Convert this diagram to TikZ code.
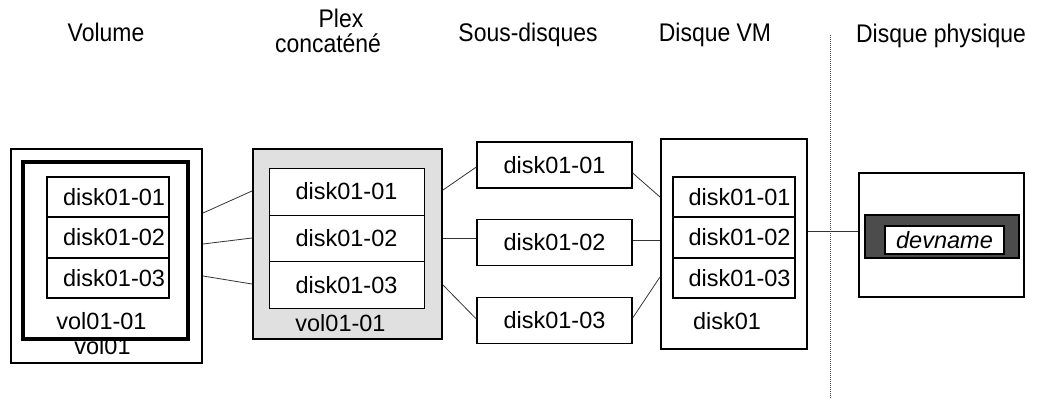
\documentclass[tikz,border=0pt]{standalone}
\usepackage{fontspec}
\setmainfont{Liberation Sans}
\newfontfamily\headfont{Liberation Sans}[FakeStretch=0.9]
\usetikzlibrary{positioning, calc}

\begin{document}
\begin{tikzpicture}[x=1pt, y=-1pt, font=\fontsize{23.5}{28}\selectfont,
  box/.style={rectangle, draw, line width=2pt, inner sep=0pt},
  cell/.style={rectangle, draw, fill=white, line width=2pt, text width=114pt, inner xsep=4pt, inner ysep=0pt, align=right, minimum height=40.5pt},
  pcell/.style={rectangle, draw, fill=white, line width=1pt, minimum width=155pt, minimum height=47pt, inner sep=0pt},
  sub/.style={rectangle, draw, line width=1.3pt, minimum width=155pt, minimum height=46pt, inner sep=0pt},
  link/.style={-, line width=0.8pt, black!80},
  lbl/.style={anchor=base, inner sep=0pt},
  head/.style={anchor=base, inner sep=0pt, font=\headfont\fontsize{25.5}{30}\selectfont}]
\useasboundingbox (0,0) rectangle (1044,400);
\node (h1) [head] at (106,41) {Volume};
\node (h2a) [head] at (341,27) {Plex};
\node (h2b) [head] at (328,52) {concaténé};
\node (h3) [head] at (528,41) {Sous-disques};
\node (h4) [head] at (715,41) {Disque VM};
\node (h5) [head] at (941,42) {Disque physique};

\node (vol) [box, minimum width=191pt, minimum height=214pt] at (106.5,256) {};
\node (volplex) [box, line width=3.5pt, minimum width=165pt, minimum height=177pt] at (105.5,250.5) {};
\node (v1) [cell] at (108,197) {disk01-01};
\node (v2) [cell] at (108,237.5) {disk01-02};
\node (v3) [cell] at (108,278) {disk01-03};
\node (vlbl1) [lbl] at (101.5,329) {vol01-01};
\node (vlbl2) [lbl] at (102.5,354) {vol01};

\node (plex) [box, fill=black!12, minimum width=189pt, minimum height=190pt] at (347.5,244) {};
\node (p1) [pcell] at (346.5,191.5) {disk01-01};
\node (p2) [pcell] at (346.5,238.5) {disk01-02};
\node (p3) [pcell] at (346.5,285) {disk01-03};
\node (plbl) [lbl] at (340.5,331) {vol01-01};

\node (s1) [sub] at (554.5,165) {disk01-01};
\node (s2) [sub] at (554.5,242.5) {disk01-02};
\node (s3) [sub] at (554.5,320.5) {disk01-03};

\node (vm) [box, minimum width=146pt, minimum height=210pt] at (734,244) {};
\node (d1) [cell] at (733.5,197) {disk01-01};
\node (d2) [cell] at (733.5,237.5) {disk01-02};
\node (d3) [cell] at (733.5,278) {disk01-03};
\node (dlbl) [lbl] at (727,329) {disk01};

\node (phys) [box, minimum width=165pt, minimum height=124pt] at (941.5,235) {};
\node (bar) [box, fill=black!70, minimum width=154pt, minimum height=43pt] at (942,236.5) {};
\node (dev) [box, fill=white, font=\fontsize{23.5}{28}\selectfont\itshape, minimum width=119pt, minimum height=28pt] at (944.5,240) {devname};

\coordinate (dtop) at (830,35);
\coordinate (dbot) at (830,398);
  \begin{scope}
    \draw [link] ([yshift=43pt]vol.east) -- ([yshift=53pt]plex.west);
    \draw [link] ([yshift=12pt]vol.east) -- ([yshift=6pt]plex.west);
    \draw [link] ([yshift=-20pt]vol.east) -- ([yshift=-40pt]plex.west);
    \draw [link] ([yshift=54pt]plex.east) -- ([yshift=-2pt]s1.west);
    \draw [link] ([yshift=6pt]plex.east) -- ([yshift=4.5pt]s2.west);
    \draw [link] ([yshift=-41pt]plex.east) -- ([yshift=1.5pt]s3.west);
    \draw [link] ([yshift=-8pt]s1.east) -- ([yshift=47pt]vm.west);
    \draw [link] ([yshift=2.5pt]s2.east) -- ([yshift=4pt]vm.west);
    \draw [link] ([yshift=2.5pt]s3.east) -- ([yshift=-33pt]vm.west);
    \draw [link] ([yshift=13pt]vm.east) -- ([yshift=4pt]phys.west);
    \draw [densely dotted, line width=1pt, black!70] (dtop) -- (dbot);
  \end{scope}
\end{tikzpicture}
\end{document}
